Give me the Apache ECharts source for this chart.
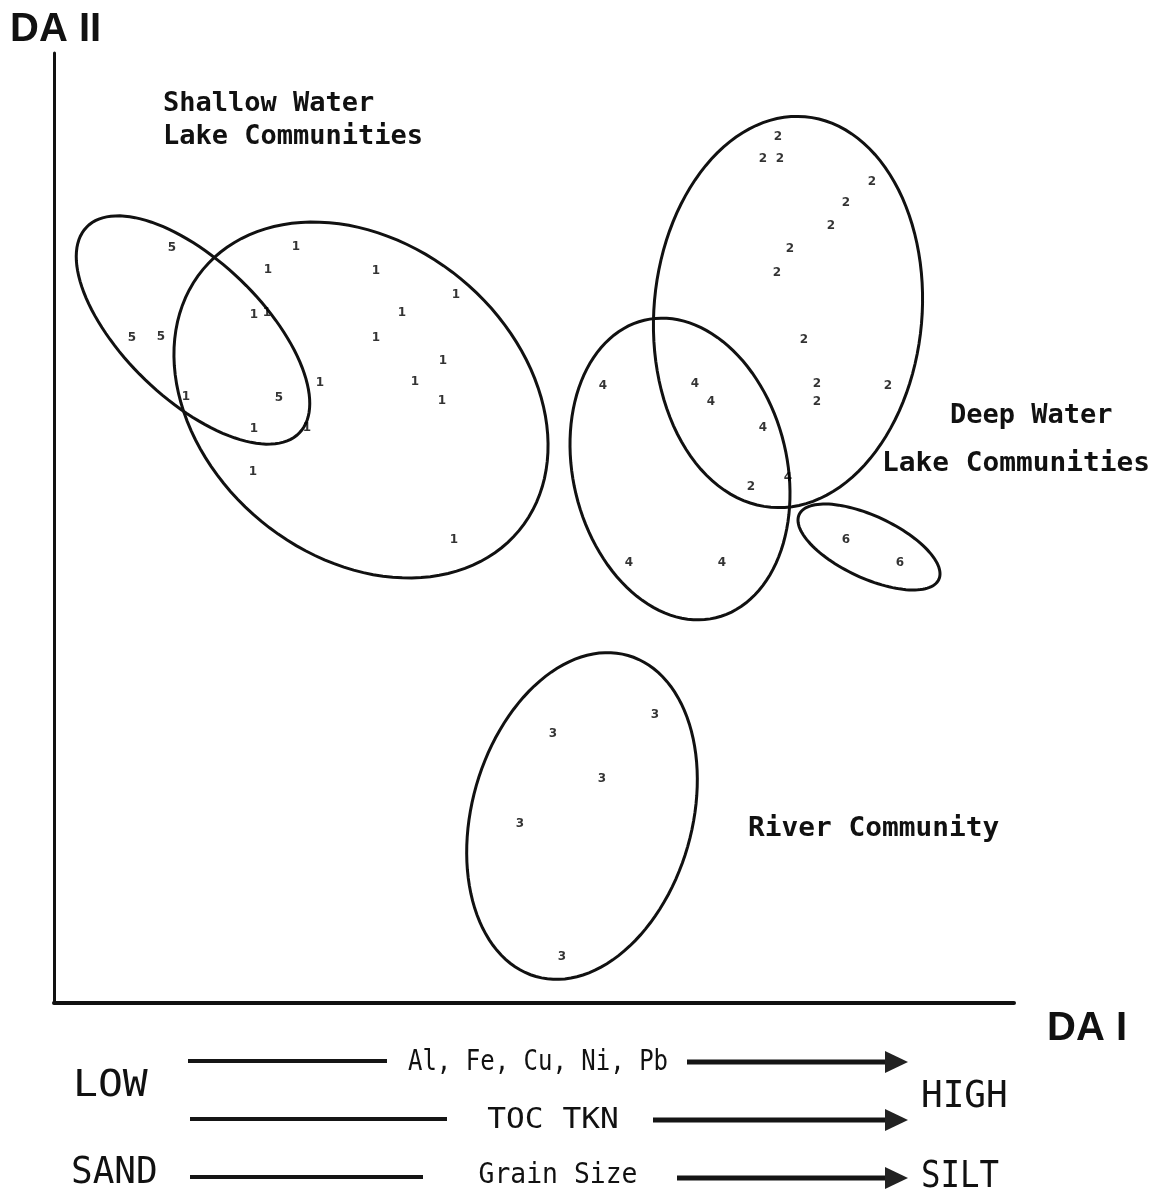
<!DOCTYPE html>
<html>
<head>
<meta charset="utf-8">
<title>DA I / DA II</title>
<script src="https://cdn.jsdelivr.net/npm/echarts@6/dist/echarts.min.js"></script>
<style>
html,body{margin:0;padding:0;background:#fff;}
#main{width:1161px;height:1199px;}
</style>
</head>
<body>
<div id="main"></div>
<script>
// scores on DA I (x) and DA II (y), one list per community group
var group1 = [[24.2,75.6],[21.4,73.3],[32.2,73.2],[40.2,70.8],[34.8,69.0],[20.0,68.8],[21.3,69.0],
  [32.2,66.5],[38.9,64.2],[26.6,62.0],[36.1,62.1],[13.2,60.6],[38.8,60.2],[20.0,57.4],[25.3,57.5],
  [19.9,53.1],[40.0,46.3]];
var group2 = [[72.4,86.6],[70.9,84.4],[72.6,84.4],[81.8,82.1],[79.2,80.0],[77.7,77.7],[73.6,75.4],
  [72.3,73.0],[75.0,66.3],[76.3,61.9],[76.3,60.1],[83.4,61.7],[69.7,51.6]];
var group3 = [[49.9,26.9],[60.1,28.8],[54.8,22.4],[46.6,17.9],[50.8,4.6]];
var group4 = [[54.9,61.7],[64.1,61.9],[65.7,60.1],[70.9,57.5],[73.4,52.5],[57.5,44.0],[66.8,44.0]];
var group5 = [[11.8,75.5],[7.8,66.5],[10.7,66.6],[22.5,60.5]];
var group6 = [[79.2,46.3],[84.6,44.0]];

// hand drawn outline round each group: centre x, centre y, half width, half height, tilt (deg)
var outlines = [
  [30.7,60.3,20.5,15.7,-39.5],   // 1
  [73.4,69.1,13.4,19.6,-5],      // 2
  [52.8,18.7,11.0,16.7,-16],     // 3
  [62.6,53.4,10.7,15.3,13.5],    // 4
  [13.9,67.3,14.8,6.9,-44],      // 5
  [81.5,45.6,7.7,3.1,-25]        // 6
];

var chart = echarts.init(document.getElementById('main'));

function groupSeries(name, pts){
  return {
    type:'scatter', name:name, data:pts, symbolSize:1, silent:true, z:3,
    itemStyle:{color:'rgba(0,0,0,0)'},
    label:{show:true, position:'inside', formatter:name, color:'#000',
      fontSize:12, fontWeight:'bold', fontFamily:'DejaVu Sans'}
  };
}

function txt(s, x, y, font, align, sy, sx){
  return {type:'text', x:x, y:y, scaleY:sy||1, scaleX:sx||1, silent:true,
    style:{text:s, font:font, fill:'#111', align:align||'left', verticalAlign:'middle'}};
}
function bar(x1, x2, y, w){
  return {type:'line', silent:true, shape:{x1:x1,y1:y,x2:x2,y2:y}, style:{stroke:'#151515', lineWidth:w||4}};
}
function head(y){
  return {type:'polygon', silent:true, shape:{points:[[885,y-11],[908,y],[885,y+11]]}, style:{fill:'#222'}};
}

var mono = 'DejaVu Sans Mono';
var option = {
  animation:false,
  backgroundColor:'#fff',
  grid:{left:54, top:53, width:960, height:950},
  xAxis:{type:'value', min:0, max:96,
    axisLine:{show:true, lineStyle:{color:'#111', width:4}},
    axisTick:{show:false}, axisLabel:{show:false}, splitLine:{show:false}},
  yAxis:{type:'value', min:0, max:95,
    axisLine:{show:true, lineStyle:{color:'#111', width:3}},
    axisTick:{show:false}, axisLabel:{show:false}, splitLine:{show:false}},
  series:[
    {type:'custom', silent:true, z:2, data:outlines,
      renderItem:function(params, api){
        var cx=api.value(0), cy=api.value(1), rx=api.value(2), ry=api.value(3);
        var r=api.value(4)*Math.PI/180;
        var pts=[];
        for(var i=0;i<120;i++){
          var t=i/120*2*Math.PI;
          var ex=rx*Math.cos(t), ey=ry*Math.sin(t);
          pts.push(api.coord([cx+ex*Math.cos(r)-ey*Math.sin(r), cy+ex*Math.sin(r)+ey*Math.cos(r)]));
        }
        return {type:'polygon', shape:{points:pts}, style:{fill:'none', stroke:'#111', lineWidth:3}};
      }},
    groupSeries('1', group1),
    groupSeries('2', group2),
    groupSeries('3', group3),
    groupSeries('4', group4),
    groupSeries('5', group5),
    groupSeries('6', group6)
  ],
  graphic:[
    txt('DA II', 10, 30, 'bold 40px "Liberation Sans"'),
    txt('DA I', 1047, 1029, 'bold 40px "Liberation Sans"'),
    txt('Shallow Water', 163, 104, 'bold 27px "' + mono + '"'),
    txt('Lake Communities', 163, 137, 'bold 27px "' + mono + '"'),
    txt('Deep Water', 950, 416, 'bold 27px "' + mono + '"'),
    txt('Lake Communities', 882, 464, 'bold 27px "' + mono + '"', 'left', 1, 1.03),
    txt('River Community', 748, 829, 'bold 27px "' + mono + '"', 'left', 1, 1.03),

    txt('LOW', 73, 1086, '36px "' + mono + '"', 'left', 1.05, 1.15),
    txt('SAND', 71, 1173, '36px "' + mono + '"', 'left', 1.05),
    txt('HIGH', 921, 1097, '36px "' + mono + '"', 'left', 1.05),
    txt('SILT', 921, 1177, '36px "' + mono + '"', 'left', 1.05, 0.9),
    txt('Al, Fe, Cu, Ni, Pb', 538, 1063, '24px "' + mono + '"', 'center', 1.2),
    txt('TOC TKN', 553, 1121, '24px "' + mono + '"', 'center', 1.2, 1.3),
    txt('Grain Size', 558, 1176, '24px "' + mono + '"', 'center', 1.2, 1.1),

    bar(188, 387, 1061), bar(687, 888, 1062, 5), head(1062),
    bar(190, 447, 1119), bar(653, 888, 1120, 5), head(1120),
    bar(190, 423, 1177), bar(677, 888, 1178, 5), head(1178)
  ]
};
chart.setOption(option);
</script>
</body>
</html>
